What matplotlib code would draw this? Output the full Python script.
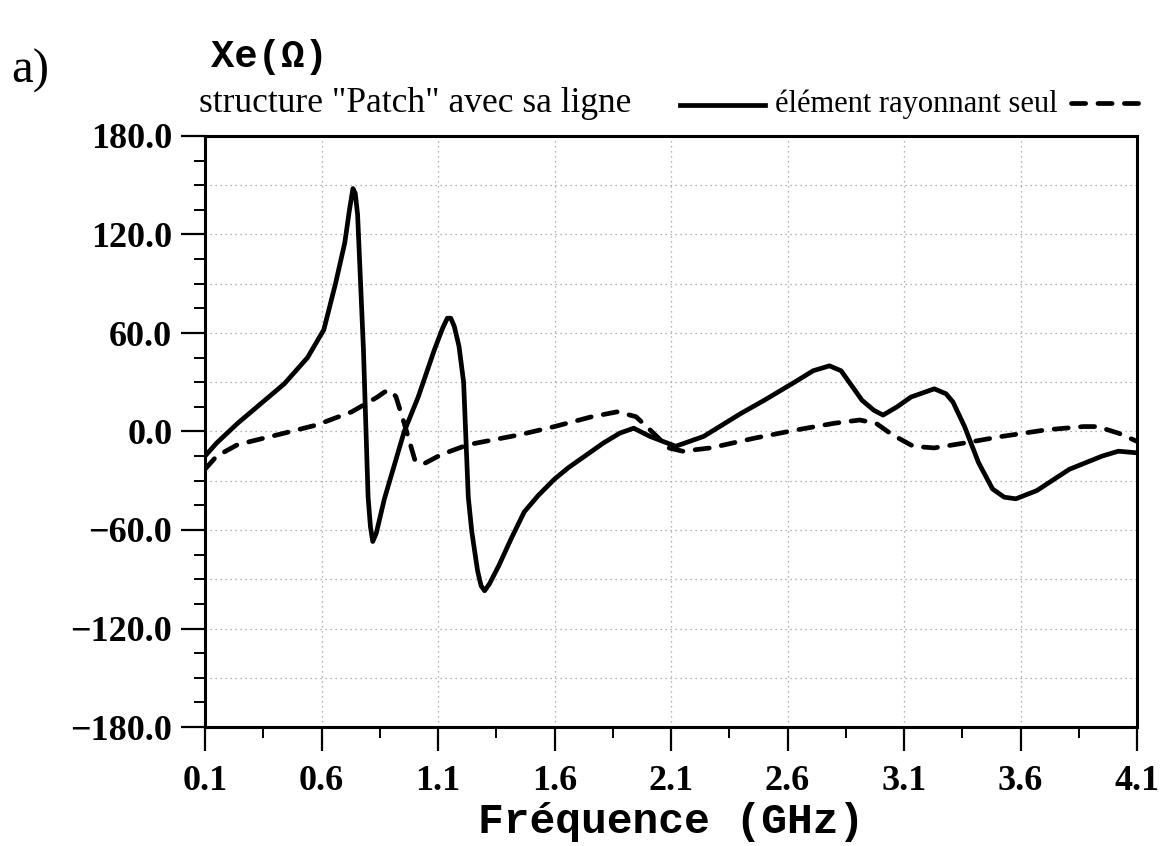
import matplotlib
matplotlib.use("Agg")
import numpy as np
import matplotlib.pyplot as plt
from matplotlib.lines import Line2D
from matplotlib.ticker import MultipleLocator, FuncFormatter

# Xe (ohm) versus frequency (GHz), patch fed by its line
freq_patch = [0.10, 0.15, 0.24, 0.34, 0.44, 0.54, 0.61, 0.66, 0.70, 0.72,
              0.735, 0.745, 0.755, 0.78, 0.80, 0.81, 0.82, 0.835, 0.87, 0.955,
              1.015, 1.085, 1.12, 1.14, 1.155, 1.17, 1.19, 1.21, 1.23, 1.245,
              1.27, 1.285, 1.30, 1.32, 1.36, 1.415, 1.47, 1.53, 1.60, 1.66,
              1.73, 1.81, 1.88, 1.94, 2.01, 2.12, 2.24, 2.40, 2.50, 2.63,
              2.71, 2.78, 2.83, 2.92, 2.97, 3.01, 3.07, 3.13, 3.23, 3.28,
              3.31, 3.36, 3.42, 3.48, 3.53, 3.58, 3.67, 3.81, 3.95, 4.02,
              4.10]
xe_patch = [-15, -7, 5, 17, 29, 45, 62, 90, 115, 135,
            148, 145, 132, 50, -40, -58, -67, -62, -41, 0,
            21, 50, 63, 69, 69, 64, 52, 30, -40, -61,
            -85, -94, -97, -93, -82, -65, -49, -39, -29, -22,
            -15, -7, -1, 2, -3, -9, -3, 11, 19, 30,
            37, 40, 37, 19, 13, 10, 15, 21, 26, 23,
            18, 3, -19, -35, -40, -41, -36, -23, -15, -12,
            -13]

# radiating element alone
freq_elem = [0.10, 0.15, 0.24, 0.44, 0.58, 0.73, 0.84, 0.87, 0.885, 0.905,
             0.92, 0.955, 1.00, 1.035, 1.115, 1.23, 1.45, 1.60, 1.76, 1.87,
             1.95, 2.01, 2.09, 2.15, 2.27, 2.46, 2.64, 2.80, 2.91, 2.98,
             3.05, 3.14, 3.23, 3.36, 3.52, 3.71, 3.87, 3.93, 4.02, 4.10]
xe_elem = [-23, -15, -8, -1, 4, 12, 21, 24, 25, 24,
           21, 5, -17, -20, -14, -8, -2, 3, 9, 12,
           9, 1, -10, -12, -10, -4, 1, 5, 7, 5,
           -2, -9, -10, -7, -3, 1, 3, 3, -1, -6]

label_patch = 'structure "Patch" avec sa ligne'
label_elem = 'élément rayonnant seul'

W, H = 1161, 846


def fx(px):
    return px / W


def fy(py):
    return 1 - py / H


serif = "Liberation Serif"
mono = "Liberation Mono"

fig = plt.figure(figsize=(W / 100, H / 100), dpi=100)
ax = fig.add_axes([fx(205), fy(727), (1137 - 205) / W, (727 - 136) / H])

lw_curve = 3.4
ax.plot(freq_patch, xe_patch, color="black", lw=lw_curve,
        solid_joinstyle="round", solid_capstyle="round", zorder=3)
ax.plot(freq_elem, xe_elem, color="black", lw=lw_curve,
        dashes=(3, 2.6), dash_capstyle="round", dash_joinstyle="round", zorder=3)

ax.set_xlim(0.1, 4.1)
ax.set_ylim(-180, 180)
ax.xaxis.set_major_locator(MultipleLocator(0.5, offset=0.1))
ax.xaxis.set_minor_locator(MultipleLocator(0.25, offset=0.1))
ax.yaxis.set_major_locator(MultipleLocator(60))
ax.yaxis.set_minor_locator(MultipleLocator(15))
ax.xaxis.set_major_formatter(FuncFormatter(lambda v, p: f"{v:.1f}"))
ax.yaxis.set_major_formatter(
    FuncFormatter(lambda v, p: f"{v:.1f}".replace("-", "\u2212")))

# dotted grid: every 0.5 GHz, every 30 ohm
grid_kw = dict(color="#9a9a9a", lw=0.9, linestyle=(0, (1, 3)), zorder=1)
ax.grid(axis="x", which="major", **grid_kw)
for yv in np.arange(-150, 180, 30):
    ax.axhline(yv, **grid_kw)

for s in ax.spines.values():
    s.set_linewidth(2.2)

ax.tick_params(which="major", direction="out", length=17, width=1.6)
ax.tick_params(which="minor", direction="out", length=8, width=1.4)
ax.tick_params(axis="y", which="major", pad=6.5)
ax.tick_params(axis="x", which="major", pad=10.5)
for lab in ax.get_xticklabels() + ax.get_yticklabels():
    lab.set_fontfamily(serif)
    lab.set_fontweight("bold")
    lab.set_fontsize(26)

ax.set_xlabel("Fréquence (GHz)", family=mono, weight="bold", fontsize=31,
              labelpad=3)

# headings and legend row above the frame
fig.text(fx(11), fy(71), "a)", family=serif, fontsize=35, va="center")
fig.text(fx(211), fy(57), "Xe(Ω)", family=mono, weight="bold", fontsize=28,
         va="center")

fig.text(fx(199), fy(112), label_patch, family=serif, fontsize=25.5,
         va="baseline")
fig.add_artist(Line2D([fx(680), fx(765)], [fy(105), fy(105)], color="black",
                      lw=lw_curve, transform=fig.transFigure))
fig.text(fx(775), fy(112), label_elem, family=serif, fontsize=22,
         va="baseline")
fig.add_artist(Line2D([fx(1071), fx(1141)], [fy(103), fy(103)], color="black",
                      lw=lw_curve, dashes=(3, 2.6), dash_capstyle="round",
                      transform=fig.transFigure))

fig.savefig("out.png", dpi=100)
